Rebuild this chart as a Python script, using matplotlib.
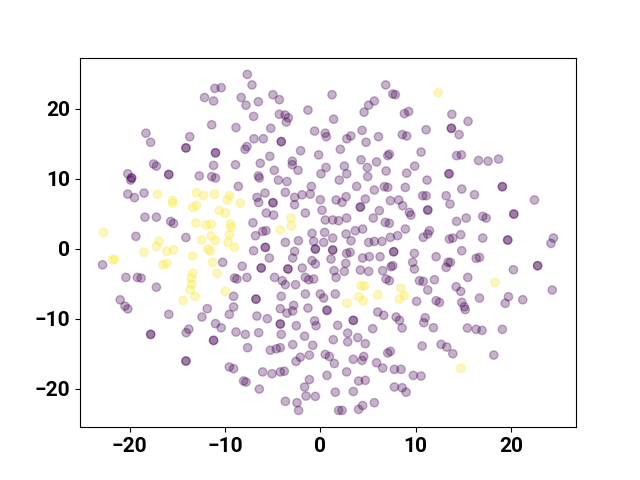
import matplotlib
matplotlib.use("Agg")
import matplotlib.pyplot as plt
import numpy as np

# class 0 (purple) points
purple_x = [
 -12.15,-18.3,-17.8,-13.7,-14.1,-14.1,-17.5,-17.2,-20.2,-19.8,-19.8,-19.9,-15.9,-15.9,-12.7,
 -7.66,-7.17,-11.06,-10.4,-11.2,-8.3,-7.8,-6.5,-4.97,-4.3,-1.3,-7.0,-4.3,-3.7,-3.36,-3.57,-11.4,-8.85,-5.2,-0.6,0.52,0.63,-6.96,-5.98,-4.1,-4.1,-7.7,-7.9,-11.0,-11.0,-2.07,-5.3,-0.18,-11.2,-8.9,-6.3,-2.94,-2.94,-2.34,0.6,0.07,-4.83,-11.4,-11.0,-6.5,-6.4,-4.4,-3.5,
 6.86,7.6,7.87,1.23,5.67,5.07,4.59,8.82,9.27,13.8,1.4,13.75,13.75,4.38,11.1,2.77,3.2,4.8,6.1,8.6,9.06,2.1,10.57,7.24,7.07,4.27,5.9,2.52,4.93,9.9,2.77,6.9,9.06,13.5,13.5,4.97,1.99,11.2,
 15.5,14.56,14.3,14.8,16.6,17.6,18.7,
 -20.2,-19.5,-18.5,-18.4,-17.2,-15.7,-15.4,-19.35,-14.1,-22.85,-20.4,-19.2,-18.8,-17.2,-21.0,-20.5,-20.2,
 -8.6,-0.94,-6.65,-6.47,-5.8,-4.97,-4.97,-3.67,-2.7,-2.7,-1.92,-1.05,0.0,0.18,-5.67,-4.9,-7.07,-5.7,-6.05,-6.8,-1.57,0.52,-2.3,-2.7,-2.9,-3.67,-0.87,-0.7,-0.52,-0.52,0.45,0.35,-7.0,-5.77,-5.77,-5.35,-10.25,-8.2,-6.2,-6.2,-3.4,-3.4,-1.9,-0.87,-0.52,-9.0,-8.75,-7.7,-4.8,-4.0,-3.67,-1.57,-1.22,-0.7,-2.6,-9.1,-6.75,-6.75,-4.1,-1.57,0.0,0.35,
 3.81,5.67,6.72,7.07,8.92,1.65,2.28,2.7,4.2,4.2,4.72,7.35,8.22,8.64,10.74,11.1,11.27,11.27,13.2,13.6,6.19,9.34,9.5,1.3,1.92,2.76,5.56,6.82,7.24,8.92,3.67,4.44,2.7,3.22,1.3,5.07,5.67,6.47,7.35,8.11,10.8,11.27,11.45,13.55,13.9,1.3,1.3,2.76,3.12,4.44,5.14,6.27,7.7,7.7,9.87,12.15,1.12,2.67,7.42,9.69,9.87,13.2,13.4,13.65,1.44,1.65,2.52,4.2,5.07,6.54,7.6,6.9,7.24,10.4,10.8,11.27,11.97,1.57,10.1,12.15,12.5,
 14.84,16.17,19.1,19.1,22.47,14.3,15.3,17.04,17.4,20.3,20.3,14.73,17.04,19.66,19.66,24.46,24.2,14.84,16.35,16.7,22.8,22.8,20.26,15.47,14.25,14.73,24.33,16.7,19.74,19.4,21.24,14.84,15.1,
 -15.9,-17.8,-17.8,-14.07,-13.8,-12.42,-11.86,-14.1,-14.1,
 -9.1,-9.55,-11.0,-10.4,-6.65,-5.56,-4.2,-3.5,-2.9,-2.8,-1.3,0.7,0.7,-4.2,-4.2,-2.52,-0.6,-0.45,-8.85,-7.87,-6.47,-4.1,-1.65,-11.2,-11.2,-7.63,-5.25,-4.62,-4.2,-2.9,-0.8,-2.1,-2.55,-1.15,0.52,-9.55,-9.1,-6.05,-5.07,-4.2,-3.78,-8.05,-7.8,-6.4,-1.65,-1.15,-1.5,-0.52,0.7,-3.67,-2.45,-2.28,
 3.46,3.46,6.02,6.65,7.95,8.3,8.58,11.0,10.85,11.86,5.49,1.82,2.87,2.87,3.92,4.72,1.36,10.68,12.67,13.26,13.9,7.07,7.35,0.95,1.47,3.46,4.38,4.55,5.9,6.54,7.77,8.47,9.76,10.57,2.76,4.02,4.72,7.77,8.58,9.0,1.57,3.46,5.67,4.44,4.02,1.92,2.28,
 15.2,15.43,16.35,16.97,19.1,18.2,
]
purple_y = [
 21.6,16.5,15.2,16.0,14.4,14.4,12.1,11.8,10.7,10.1,10.1,9.8,10.6,10.6,10.4,
 24.9,23.4,22.9,23.0,21.1,21.6,20.5,21.0,22.0,21.3,19.8,18.9,19.2,19.1,18.7,18.1,17.7,17.3,17.2,16.8,16.5,16.0,15.7,15.7,15.3,15.3,14.6,14.2,13.7,13.7,14.0,13.2,13.4,11.9,12.0,12.2,12.5,12.0,11.2,11.6,10.7,11.2,10.3,10.1,10.4,10.1,9.8,9.6,
 23.4,22.1,22.0,22.0,21.1,20.5,19.5,19.3,19.6,19.2,18.5,17.2,17.2,16.9,17.0,15.7,16.1,15.2,16.0,16.3,16.1,14.2,13.8,13.5,13.3,12.7,12.4,11.8,11.6,11.8,10.7,11.1,10.8,10.7,10.7,10.3,9.8,9.8,
 18.2,16.3,13.3,13.4,12.6,12.5,12.8,
 7.8,7.3,7.95,4.5,4.5,3.9,3.6,1.76,1.6,-2.3,-4.1,-4.1,-4.2,-5.5,-7.3,-8.2,-8.6,
 8.9,8.9,7.33,6.6,7.95,6.57,6.57,8.05,7.33,6.29,7.7,7.8,7.0,5.5,5.1,4.8,3.7,2.57,2.47,1.86,5.1,4.1,1.14,-0.38,-1.33,0.9,2.19,1.04,-0.05,-0.05,2.33,0.9,-0.29,0.19,0.19,-1.33,-1.95,-2.5,-2.76,-2.76,-2.9,-2.9,-2.76,-1.7,-2.19,-4.19,-4.33,-4.1,-4.1,-4.57,-5.14,-4.1,-4.43,-4.33,-5.14,-6.8,-7.2,-7.2,-6.8,-6.47,-6.47,-7.05,
 8.9,8.38,8.86,8.76,8.76,6.96,6.62,7.43,5.95,5.95,7.1,6.86,6.96,6.14,7.57,7.57,5.52,5.52,7.57,6.38,5.43,5.19,4.8,4.1,4.0,4.38,4.38,3.76,3.62,2.81,2.57,2.81,2.1,1.14,1.52,0.9,1.04,1.04,1.62,1.86,1.62,2.1,2.57,1.38,1.52,-0.19,-0.19,-0.67,-0.52,-1.33,-1.14,-1.14,-0.43,-0.43,-0.67,-1.14,-1.48,-2.1,-2.57,-1.95,-2.9,-2.67,-1.95,-1.95,-3.14,-4.1,-3.24,-3.05,-3.24,-3.14,-2.43,-4.33,-4.57,-4.57,-4.67,-5.9,-4.43,-6.47,-7.52,-7.43,-7.67,
 8.52,7.71,8.86,8.86,6.96,3.9,4.38,4.62,4.38,4.95,4.95,2.0,1.52,1.24,1.24,1.52,0.76,-0.29,-1.38,-1.24,-2.43,-2.43,-3.0,-4.1,-5.43,-6.1,-5.9,-7.05,-6.86,-7.8,-7.29,-7.67,-8.29,
 -9.38,-12.24,-12.24,-12.0,-11.5,-9.76,-8.57,-16.05,-16.05,
 -8.33,-9.38,-10.7,-11.3,-9.62,-10.0,-8.57,-9.2,-8.9,-8.1,-8.48,-8.8,-8.8,-10.76,-10.76,-11.0,-10.3,-11.0,-11.9,-12.24,-12.0,-12.24,-12.5,-13.1,-13.1,-14.14,-14.5,-14.3,-14.14,-13.7,-13.8,-15.5,-16.1,-15.2,-15.1,-16.9,-17.14,-17.6,-17.86,-17.6,-17.5,-18.9,-19.05,-20.05,-19.76,-18.7,-21.05,-21.1,-18.1,-21.8,-22.0,-23.1,
 -10.24,-10.24,-9.05,-9.52,-9.76,-10.24,-11.33,-9.86,-10.57,-11.29,-11.43,-10.95,-12.05,-13.3,-12.7,-13.57,-13.0,-13.9,-13.67,-14.05,-15.0,-14.9,-14.67,-15.4,-16.4,-15.8,-15.96,-15.4,-16.3,-17.05,-17.24,-17.24,-18.1,-18.19,-17.6,-18.9,-18.8,-19.76,-19.86,-20.5,-20.5,-20.4,-22.0,-22.4,-22.95,-23.1,-23.1,
 -8.7,-11.33,-11.52,-11.67,-11.52,-15.2,
]

# class 1 (yellow) points
yellow_x = [
 12.35,
 -17.1,-15.5,-15.5,-13.0,-12.25,-13.37,-13.0,-22.75,-16.9,-17.2,-18.5,-16.1,-15.4,-13.05,-11.97,-12.46,-13.4,-21.8,-21.6,-16.5,-16.1,-13.4,-13.5,-13.5,-13.65,-13.15,-14.4,
 -11.1,-9.55,-9.76,-8.4,-10.6,-9.97,-11.45,-9.45,-9.34,-3.08,-3.04,-4.23,-11.45,-11.0,-11.8,-11.55,-11.3,-9.55,-9.69,-9.0,-10.85,-9.97,
 4.27,4.62,6.02,8.47,8.82,8.3,4.02,4.51,2.8,
 18.34,14.73,
]
yellow_y = [
 22.3,
 7.8,6.9,6.5,8.0,7.6,5.9,6.2,2.3,1.1,0.33,-0.5,-0.38,-0.14,3.67,3.38,1.24,-1.05,-1.6,-1.5,-2.3,-2.1,-3.5,-4.2,-5.05,-5.86,-6.8,-7.4,
 7.8,7.57,6.96,6.5,5.43,5.1,3.5,3.53,3.05,4.38,3.24,2.67,1.81,1.14,-0.05,-0.29,-1.95,2.0,0.9,0.19,-3.52,-6.1,
 -5.29,-5.29,-6.57,-5.62,-6.71,-7.19,-6.86,-7.43,-7.8,
 -4.81,-17.05,
]

x = np.array(purple_x + yellow_x)
y = np.array(purple_y + yellow_y)
labels = np.array([0] * len(purple_x) + [1] * len(yellow_x))

plt.rcParams['font.family'] = ['Roboto', 'DejaVu Sans']
fig, ax = plt.subplots(figsize=(6.4, 4.8), dpi=100)
ax.scatter(x, y, c=labels, cmap='viridis', alpha=0.3)
ax.tick_params(labelsize=15)
plt.setp(ax.get_xticklabels(), fontweight='bold')
plt.setp(ax.get_yticklabels(), fontweight='bold')
fig.savefig('out.png', dpi=100)
